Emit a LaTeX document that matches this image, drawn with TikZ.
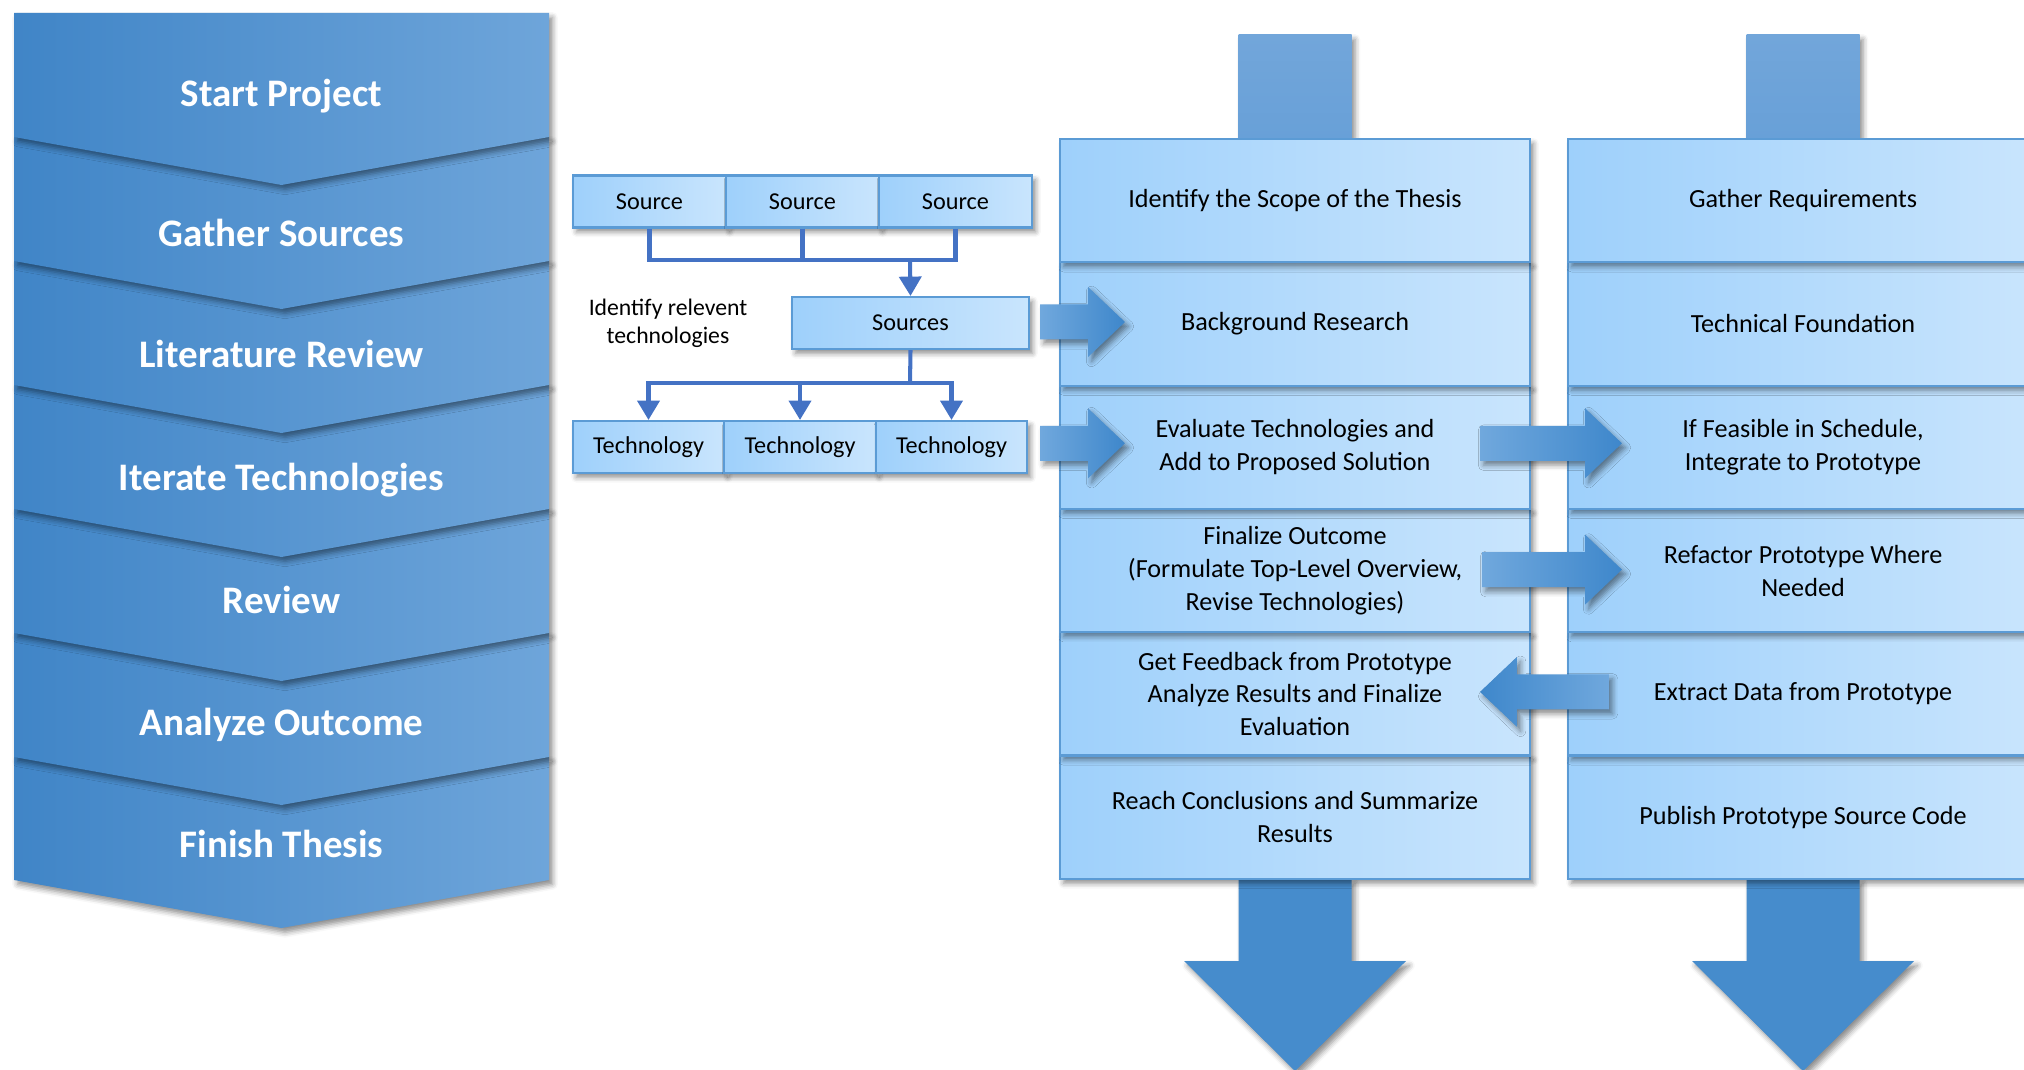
\documentclass[tikz,border=0pt]{standalone}
\usepackage{fontspec}
\setmainfont{Carlito}
\usetikzlibrary{calc,arrows.meta,shadows.blur}

\definecolor{bandL}{RGB}{64,133,199}
\definecolor{bandR}{RGB}{110,165,218}
\definecolor{boxL}{RGB}{158,208,251}
\definecolor{boxR}{RGB}{201,229,253}
\definecolor{boxline}{RGB}{91,155,213}
\definecolor{connc}{RGB}{68,114,196}
\definecolor{stemTop}{RGB}{114,166,218}
\definecolor{stemBot}{RGB}{104,160,216}
\definecolor{downc}{RGB}{70,140,204}
\definecolor{arrowLight}{RGB}{112,168,221}
\definecolor{arrowDark}{RGB}{62,135,203}

% block arrow from tail #1 to tip #2 (same height), shaded with style #3
\newcommand\fatarrow[3]{%
  \coordinate (fa-t) at (#1 |- #2);
  \coordinate (fa-h) at ($(#2)!21pt!(fa-t)$);
  \path[#3,softshadow] ($(fa-t)+(0,-17.5)$) -- ($(fa-h)+(0,-17.5)$)
    -- ($(fa-h)+(0,-35)$) -- (#2) -- ($(fa-h)+(0,35)$)
    -- ($(fa-h)+(0,17.5)$) -- ($(fa-t)+(0,17.5)$) -- cycle;
}

\begin{document}
\begin{tikzpicture}[x=0.02cm,y=-0.02cm,
  softshadow/.style={blur shadow={shadow xshift=2pt,shadow yshift=-2.5pt,
      shadow blur radius=3pt,shadow opacity=45}},
  band/.style={left color=bandL,right color=bandR,softshadow},
  bandtext/.style={anchor=base,text=white,font=\fontsize{22.2}{26}\selectfont\bfseries},
  rowbox/.style={draw=boxline,line width=1.2pt,left color=boxL,right color=boxR,
      minimum width=470*0.02cm,minimum height=123.3*0.02cm,inner sep=0pt,
      align=center,font=\fontsize{14.9}{18.7}\selectfont,softshadow},
  smallbox/.style={draw=boxline,line width=1.2pt,left color=boxL,right color=boxR,
      minimum height=52*0.02cm,inner sep=0pt,
      font=\fontsize{13.8}{16}\selectfont,softshadow},
  conn/.style={draw=connc,line width=2.3pt,line join=miter},
  tip/.style={-{Triangle[width=12.5pt,length=11pt]}},
  goright/.style={left color=arrowLight,right color=arrowDark},
  goleft/.style={left color=arrowDark,right color=arrowLight},
  stem/.style={top color=stemTop,bottom color=stemBot,softshadow},
  downarrow/.style={fill=downc,softshadow},
]
\useasboundingbox (0,0) rectangle (2024,1070);
\clip (0,0) rectangle (2024,1070);

% ---------- phase chevrons, drawn from the bottom up ----------
\foreach \t/\b in {757/880,633/757,509/633,385/509,261/385,137/261,13/137}
  \path[band] (14,\t) -- (549,\t) -- (549,\b) -- (281.5,\b+48) -- (14,\b) -- cycle;

\node[bandtext] (pStart)   at (281.5,107) {Start Project};
\node[bandtext] (pGather)  at (281.5,247) {Gather Sources};
\node[bandtext] (pLit)     at (281.5,368) {Literature Review};
\node[bandtext] (pIter)    at (281.5,491) {Iterate Technologies};
\node[bandtext] (pReview)  at (281.5,613) {Review};
\node[bandtext] (pAnalyze) at (281.5,735) {Analyze Outcome};
\node[bandtext] (pFinish)  at (281.5,857) {Finish Thesis};

% ---------- flow arrows entering and leaving both tracks ----------
% track centres: thesis x=1295, prototype x=1803; tracks span y=139..879
\foreach \x in {1295,1803}{
  \coordinate (in-\x) at (\x,139);
  \coordinate (out-\x) at (\x,879);
  \path[stem] ($(in-\x)+(-56.5,-104)$) rectangle ($(in-\x)+(56.5,0)$);
  \path[downarrow] ($(out-\x)+(-56.5,0)$) -- ($(out-\x)+(56.5,0)$)
    -- ($(out-\x)+(56.5,82)$) -- ($(out-\x)+(111,82)$)
    -- ($(out-\x)+(0,192)$) -- ($(out-\x)+(-111,82)$)
    -- ($(out-\x)+(-56.5,82)$) -- cycle;
}

% ---------- thesis track ----------
\node[rowbox] (m6) at (1295,817.2) {Reach Conclusions and Summarize\\Results};
\node[rowbox] (m5) at (1295,693.9) {Get Feedback from Prototype\\Analyze Results and Finalize\\Evaluation};
\node[rowbox] (m4) at (1295,570.6) {Finalize Outcome\\(Formulate Top-Level Overview,\\Revise Technologies)};
\node[rowbox] (m3) at (1295,447.3) {Evaluate Technologies and\\Add to Proposed Solution};
\node[rowbox] (m2) at (1295,324.0) {Background Research};
\node[rowbox] (m1) at (1295,200.7) {Identify the Scope of the Thesis};

% ---------- prototype track ----------
\node[rowbox] (r6) at (1803,817.2) {Publish Prototype Source Code};
\node[rowbox] (r5) at (1803,693.9) {Extract Data from Prototype};
\node[rowbox] (r4) at (1803,570.6) {Refactor Prototype Where\\Needed};
\node[rowbox] (r3) at (1803,447.3) {If Feasible in Schedule,\\Integrate to Prototype};
\node[rowbox] (r2) at (1803,324.0) {Technical Foundation};
\node[rowbox] (r1) at (1803,200.7) {Gather Requirements};

% ---------- source selection ----------
\node[smallbox,minimum width=153*0.02cm] (s1) at (649.5,201.5) {Source};
\node[smallbox,minimum width=153*0.02cm] (s2) at (802.5,201.5) {Source};
\node[smallbox,minimum width=153*0.02cm] (s3) at (955.5,201.5) {Source};
\node[smallbox,minimum width=237*0.02cm] (srcs) at (910.5,323) {Sources};
\node[smallbox,minimum width=151.3*0.02cm] (t1) at (648.5,447) {Technology};
\node[smallbox,minimum width=151.3*0.02cm] (t2) at (800,447) {Technology};
\node[smallbox,minimum width=151.3*0.02cm] (t3) at (951.5,447) {Technology};
\node[align=center,font=\fontsize{13.5}{16}\selectfont] (lbl) at (668,323)
  {Identify relevent\\technologies};

\coordinate (jA) at (910,260);
\coordinate (jB) at (910,383);
\draw[conn] (s1.south) |- (jA);
\draw[conn] (s2.south) |- (jA);
\draw[conn] (s3.south) |- (jA);
\draw[conn,tip] (jA) -- (srcs.north);
\draw[conn] (srcs.south) -- (jB);
\draw[conn,tip] (jB) -| (t1.north);
\draw[conn,tip] (jB) -| (t2.north);
\draw[conn,tip] (jB) -| (t3.north);

% ---------- block arrows between the parts ----------
\coordinate (a1s) at ($(srcs.east)+(10,0)$);
\coordinate (a1e) at ($(m2.west)+(66,-2)$);
\fatarrow{a1s}{a1e}{goright}
\coordinate (a2s) at ($(t3.east)+(12,0)$);
\coordinate (a2e) at ($(m3.west)+(66,-4)$);
\fatarrow{a2s}{a2e}{goright}
\coordinate (a3s) at ($(m3.east)+(-51,0)$);
\coordinate (a3e) at ($(r3.west)+(55,-4)$);
\fatarrow{a3s}{a3e}{goright}
\coordinate (a4s) at ($(m4.east)+(-49,0)$);
\coordinate (a4e) at ($(r4.west)+(55,-1)$);
\fatarrow{a4s}{a4e}{goright}
\coordinate (a5s) at ($(r5.west)+(42,0)$);
\coordinate (a5e) at ($(m5.east)+(-51,-2)$);
\fatarrow{a5s}{a5e}{goleft}
\end{tikzpicture}
\end{document}
